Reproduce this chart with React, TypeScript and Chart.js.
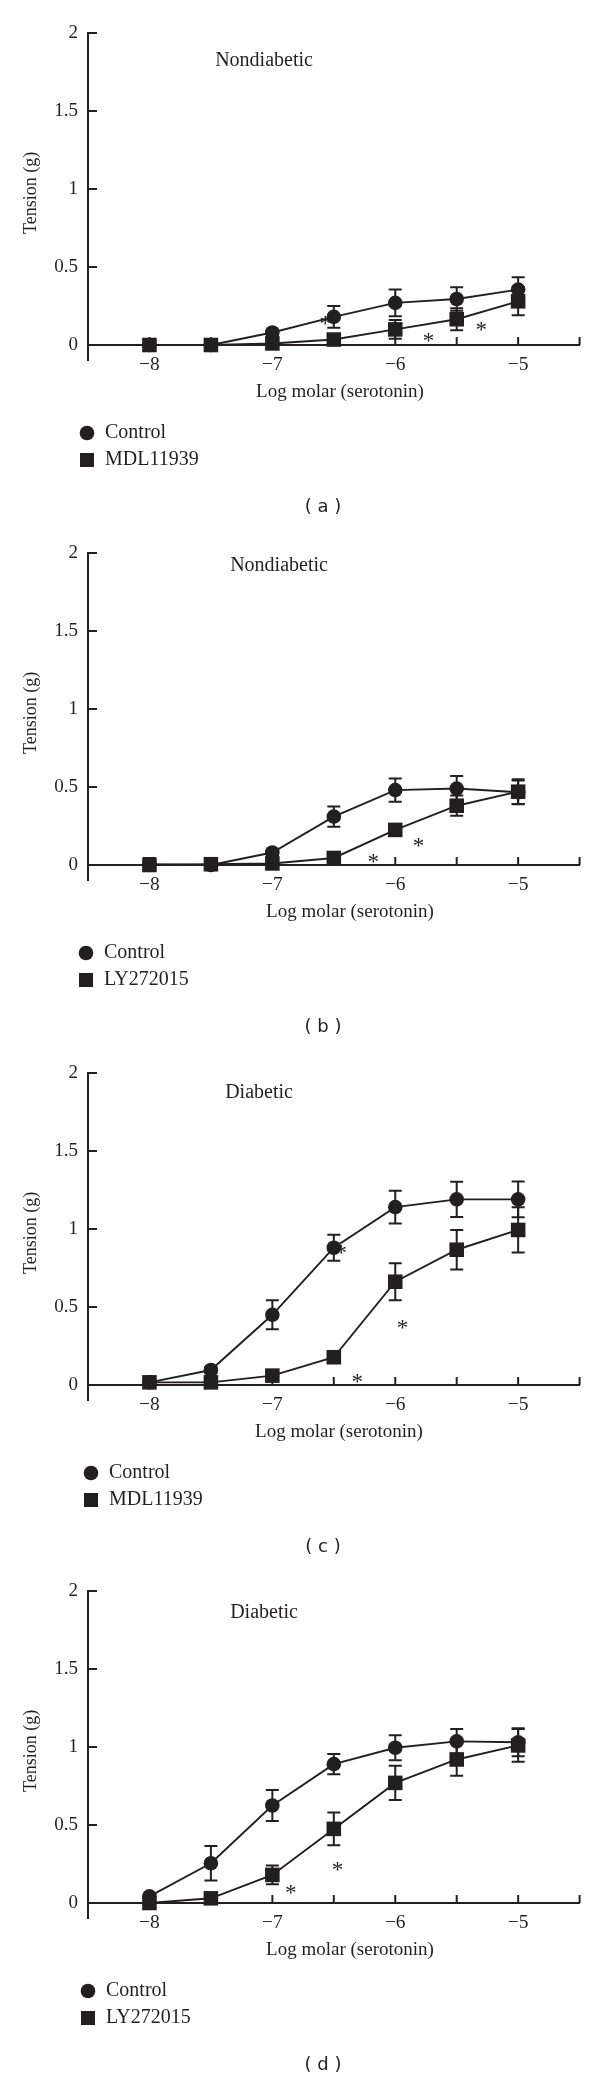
import React, { useEffect, useRef } from "react";
import { Chart, registerables } from "chart.js";

Chart.register(...registerables);

// ---------- data ----------
const doses = [-8, -7.5, -7, -6.5, -6, -5.5, -5];
const xTickValues = [-8, -7.5, -7, -6.5, -6, -5.5, -5, -4.5];
const xLabelValues = [-8, -7, -6, -5];
const yTickValues = [0, 0.5, 1, 1.5, 2];

// (a) Nondiabetic, MDL11939
const aControl = [0, 0, 0.08, 0.18, 0.27, 0.295, 0.355];
const aControlErr = [0.03, 0.01, 0.02, 0.07, 0.085, 0.075, 0.08];
const aDrug = [0, 0, 0.01, 0.035, 0.1, 0.165, 0.28];
const aDrugErr = [0, 0, 0.01, 0.02, 0.06, 0.07, 0.09];
const aStarsX = [-6.57, -5.73, -5.3];
const aStarsY = [0.16, 0.05, 0.12];

// (b) Nondiabetic, LY272015
const bControl = [0.005, 0, 0.08, 0.31, 0.48, 0.49, 0.466];
const bControlErr = [0.04, 0.01, 0.02, 0.065, 0.075, 0.08, 0.075];
const bDrug = [0, 0.005, 0.01, 0.045, 0.225, 0.38, 0.47];
const bDrugErr = [0, 0.01, 0.01, 0.01, 0.03, 0.065, 0.08];
const bStarsX = [-6.18, -5.81];
const bStarsY = [0.043, 0.15];

// (c) Diabetic, MDL11939
const cControl = [0.017, 0.096, 0.45, 0.88, 1.14, 1.19, 1.19];
const cControlErr = [0.01, 0.02, 0.093, 0.083, 0.105, 0.113, 0.115];
const cDrug = [0.017, 0.017, 0.06, 0.178, 0.662, 0.867, 0.994];
const cDrugErr = [0, 0, 0.02, 0.02, 0.118, 0.127, 0.145];
const cStarsX = [-6.44, -5.94, -6.31];
const cStarsY = [0.875, 0.39, 0.045];

// (d) Diabetic, LY272015
const dControl = [0.043, 0.255, 0.625, 0.89, 0.995, 1.036, 1.03];
const dControlErr = [0.01, 0.11, 0.1, 0.065, 0.08, 0.08, 0.09];
const dDrug = [0, 0.03, 0.18, 0.475, 0.77, 0.92, 1.01];
const dDrugErr = [0, 0.01, 0.06, 0.105, 0.11, 0.105, 0.105];
const dStarsX = [-6.85, -6.47];
const dStarsY = [0.09, 0.24];

const controlLabel = "Control";
const yTitle = "Tension (g)";
const xTitle = "Log molar (serotonin)";

// ---------- styles / layout ----------
const INK = "#231f20";
const SERIF = '"Liberation Serif", "Times New Roman", serif';
const SANS = '"DejaVu Sans", sans-serif';
const W = 600;
const FS = 20;

type PanelCfg = {
  tag: string;
  title: string;
  drug: string;
  control: number[];
  controlErr: number[];
  treated: number[];
  treatedErr: number[];
  starsX: number[];
  starsY: number[];
  height: number;
  titleX: number;
  titleY: number;
  xTitleX: number;
  legendX: number;
};

const panels: PanelCfg[] = [
  { tag: "a", title: "Nondiabetic", drug: "MDL11939", control: aControl, controlErr: aControlErr, treated: aDrug, treatedErr: aDrugErr, starsX: aStarsX, starsY: aStarsY, height: 520, titleX: 264, titleY: 61, xTitleX: 340, legendX: 87 },
  { tag: "b", title: "Nondiabetic", drug: "LY272015", control: bControl, controlErr: bControlErr, treated: bDrug, treatedErr: bDrugErr, starsX: bStarsX, starsY: bStarsY, height: 520, titleX: 279, titleY: 46, xTitleX: 350, legendX: 86 },
  { tag: "c", title: "Diabetic", drug: "MDL11939", control: cControl, controlErr: cControlErr, treated: cDrug, treatedErr: cDrugErr, starsX: cStarsX, starsY: cStarsY, height: 518, titleX: 259, titleY: 53, xTitleX: 339, legendX: 91 },
  { tag: "d", title: "Diabetic", drug: "LY272015", control: dControl, controlErr: dControlErr, treated: dDrug, treatedErr: dDrugErr, starsX: dStarsX, starsY: dStarsY, height: 521, titleX: 264, titleY: 55, xTitleX: 350, legendX: 88 },
];

function minus(v: number): string {
  return v < 0 ? "\u2212" + String(Math.abs(v)) : String(v);
}

function Panel({ cfg }: { cfg: PanelCfg }) {
  const ref = useRef<HTMLCanvasElement | null>(null);

  useEffect(() => {
    const canvas = ref.current;
    if (!canvas) return;

    const decor = {
      id: "decor" + cfg.tag,
      beforeDatasetsDraw(chart: any) {
        const ctx = chart.ctx;
        const ys = chart.scales.y;
        ctx.save();
        ctx.strokeStyle = INK;
        ctx.lineWidth = 2;
        chart.data.datasets.forEach((ds: any, di: number) => {
          const meta = chart.getDatasetMeta(di);
          const errs: number[] = ds.errors || [];
          meta.data.forEach((pt: any, j: number) => {
            const e = errs[j];
            if (!e) return;
            const v = ds.data[j].y;
            const yt = ys.getPixelForValue(v + e);
            const yb = ys.getPixelForValue(v - e);
            const cap = 6.5;
            ctx.beginPath();
            ctx.moveTo(pt.x, yt);
            ctx.lineTo(pt.x, yb);
            ctx.moveTo(pt.x - cap, yt);
            ctx.lineTo(pt.x + cap, yt);
            ctx.moveTo(pt.x - cap, yb);
            ctx.lineTo(pt.x + cap, yb);
            ctx.stroke();
          });
        });
        ctx.restore();
      },
      afterDraw(chart: any) {
        const ctx = chart.ctx;
        const xs = chart.scales.x;
        const ys = chart.scales.y;
        const area = chart.chartArea;
        const y0 = ys.getPixelForValue(0);
        ctx.save();
        ctx.strokeStyle = INK;
        ctx.lineWidth = 2;
        // inward y ticks
        yTickValues.forEach((v) => {
          if (v === 0) return;
          const py = ys.getPixelForValue(v);
          ctx.beginPath();
          ctx.moveTo(area.left, py);
          ctx.lineTo(area.left + 9, py);
          ctx.stroke();
        });
        // inward x ticks
        xTickValues.forEach((v) => {
          const px = xs.getPixelForValue(v);
          ctx.beginPath();
          ctx.moveTo(px, y0);
          ctx.lineTo(px, y0 - 8);
          ctx.stroke();
        });

        // stars
        ctx.fillStyle = INK;
        ctx.font = "23px " + SERIF;
        ctx.textAlign = "center";
        ctx.textBaseline = "alphabetic";
        cfg.starsX.forEach((sx, i) => {
          ctx.fillText("*", xs.getPixelForValue(sx), ys.getPixelForValue(cfg.starsY[i]) + 11);
        });

        // panel title
        ctx.font = FS + "px " + SERIF;
        ctx.textBaseline = "middle";
        ctx.fillText(cfg.title, cfg.titleX, cfg.titleY);

        // axis titles
        ctx.font = "19px " + SERIF;
        ctx.fillText(xTitle, cfg.xTitleX, y0 + 47);
        ctx.save();
        ctx.font = "18px " + SERIF;
        ctx.translate(31, (area.top + area.bottom) / 2 - 4);
        ctx.rotate(-Math.PI / 2);
        ctx.fillText(yTitle, 0, 0);
        ctx.restore();

        // legend
        ctx.font = FS + "px " + SERIF;
        const lx = cfg.legendX;
        const ly1 = y0 + 88;
        const ly2 = y0 + 115;
        ctx.beginPath();
        ctx.arc(lx, ly1, 7.3, 0, Math.PI * 2);
        ctx.fill();
        ctx.fillRect(lx - 7, ly2 - 7, 14, 14);
        ctx.textAlign = "left";
        const dsets = chart.data.datasets;
        ctx.fillText(dsets[0].label, lx + 18, ly1);
        ctx.fillText(dsets[1].label, lx + 18, ly2);

        // panel tag
        ctx.font = "18px " + SANS;
        ctx.textAlign = "center";
        ctx.fillText("( " + cfg.tag + " )", 323, y0 + 162);
        ctx.restore();
      },
    };

    const chart = new Chart(canvas, {
      type: "line",
      data: {
        datasets: [
          {
            label: controlLabel,
            data: doses.map((x, i) => ({ x, y: cfg.control[i] })),
            errors: cfg.controlErr,
            pointStyle: "circle",
            pointRadius: 7.3,
            pointBorderWidth: 0,
            pointBackgroundColor: INK,
            pointBorderColor: INK,
            borderColor: INK,
            backgroundColor: INK,
            borderWidth: 1.9,
            tension: 0,
            clip: false,
          } as any,
          {
            label: cfg.drug,
            data: doses.map((x, i) => ({ x, y: cfg.treated[i] })),
            errors: cfg.treatedErr,
            pointStyle: "rect",
            pointRadius: 10.3,
            pointBorderWidth: 0,
            pointBackgroundColor: INK,
            pointBorderColor: INK,
            borderColor: INK,
            backgroundColor: INK,
            borderWidth: 1.9,
            tension: 0,
            clip: false,
          } as any,
        ],
      },
      options: {
        responsive: false,
        animation: false,
        events: [],
        layout: {
          padding: { left: 0, right: 20.4, top: 33, bottom: cfg.height - 360.6 },
        },
        plugins: {
          legend: { display: false },
          tooltip: { enabled: false },
        },
        scales: {
          x: {
            type: "linear",
            min: -8.5,
            max: -4.5,
            position: { y: 0 } as any,
            afterFit: (s: any) => {
              s.height = 0;
            },
            afterBuildTicks: (s: any) => {
              s.ticks = xLabelValues.map((v) => ({ value: v }));
            },
            ticks: {
              callback: (v: any) => minus(Number(v)),
              font: { family: SERIF, size: 19.5 },
              color: INK,
              padding: 8,
              maxRotation: 0,
              autoSkip: false,
            },
            grid: { display: true, drawOnChartArea: false, drawTicks: false },
            border: { display: true, color: INK, width: 2 },
          },
          y: {
            type: "linear",
            min: -0.1,
            max: 2,
            afterFit: (s: any) => {
              s.width = 88;
            },
            afterBuildTicks: (s: any) => {
              s.ticks = yTickValues.map((v) => ({ value: v }));
            },
            ticks: {
              callback: (v: any) => String(v),
              font: { family: SERIF, size: 19 },
              color: INK,
              padding: 10,
              autoSkip: false,
            },
            grid: { display: true, drawOnChartArea: false, drawTicks: false },
            border: { display: true, color: INK, width: 2 },
          },
        },
      } as any,
      plugins: [decor],
    });

    return () => chart.destroy();
  }, [cfg]);

  return (
    <canvas
      ref={ref}
      width={W}
      height={cfg.height}
      style={{ display: "block", width: W, height: cfg.height }}
    />
  );
}

export default function App() {
  useEffect(() => {
    document.body.style.margin = "0";
    document.body.style.background = "#ffffff";
  }, []);
  return (
    <div style={{ width: W, background: "#ffffff" }}>
      {panels.map((p) => (
        <Panel key={p.tag} cfg={p} />
      ))}
    </div>
  );
}
